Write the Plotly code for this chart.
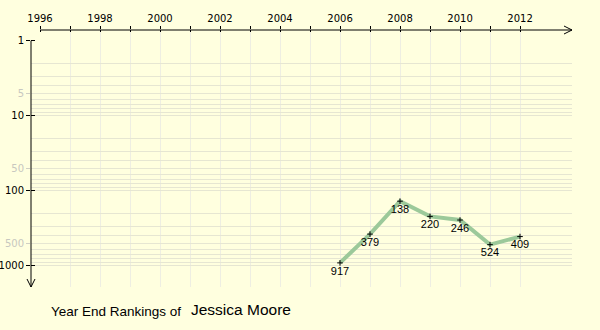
import plotly.graph_objects as go

# Year-end ranking data
years = [2006, 2007, 2008, 2009, 2010, 2011, 2012]
ranks = [917, 379, 138, 220, 246, 524, 409]

player_name = "Jessica Moore"
caption = "Year End Rankings of"

x_tick_years = list(range(1996, 2013))
x_tick_text = [str(y) if y % 2 == 0 else "" for y in x_tick_years]
x_grid_years = list(range(1997, 2013))

y_major_vals = [1, 10, 100, 1000]
y_major_text = ["1", "10", "100", "1000"]
y_minor_vals = [5, 50, 500]
y_minor_text = ["5", "50", "500"]
y_grid_vals = sorted({m * 10 ** k for k in range(3) for m in range(2, 11)})

# axis extents
X_MIN, X_MAX = 1995.7, 2013.733
Y_LOG_BOTTOM, Y_LOG_TOP = 3.284, -0.1427

BG = "#FFFFDF"
GRID = "#E6E6D2"
VGRID = "#EEEEE2"
TICK_FONT = dict(family="DejaVu Sans", size=10, color="black")

fig = go.Figure()

# helper traces so every overlay axis (ticks / grid) gets drawn
for xa, ya in [("x2", "y2"), ("x3", "y3"), ("x3", "y4")]:
    fig.add_trace(go.Scatter(x=years, y=ranks, xaxis=xa, yaxis=ya,
                             mode="lines", line=dict(width=0), opacity=0,
                             hoverinfo="skip", showlegend=False))

fig.add_trace(go.Scatter(
    x=years, y=ranks,
    mode="lines+markers+text",
    line=dict(color="#9CC99A", width=4),
    marker=dict(symbol="cross-thin", size=4, color="black",
                line=dict(color="black", width=1)),
    text=[str(r) for r in ranks],
    textposition="bottom center",
    textfont=dict(family="Liberation Sans", size=11, color="black"),
    hoverinfo="skip",
    showlegend=False,
))

common_x = dict(range=[X_MIN, X_MAX], autorange=False, showline=False,
                zeroline=False, fixedrange=True, automargin=False)
common_y = dict(type="log", range=[Y_LOG_BOTTOM, Y_LOG_TOP], autorange=False,
                showline=False, zeroline=False, fixedrange=True,
                automargin=False)

fig.update_layout(
    width=600, height=330,
    margin=dict(l=31, r=28, t=30, b=43, autoexpand=False),
    paper_bgcolor=BG, plot_bgcolor=BG,
    xaxis=dict(**common_x, side="top", tickmode="array",
               tickvals=x_tick_years, ticktext=x_tick_text,
               ticks="outside", ticklen=3, tickcolor="black", tickwidth=1,
               showgrid=False, tickfont=TICK_FONT),
    xaxis2=dict(**common_x, overlaying="x", anchor="y", side="top",
                tickmode="array", tickvals=x_tick_years,
                ticks="inside", ticklen=2, tickcolor="black", tickwidth=1,
                showticklabels=False, showgrid=False),
    xaxis3=dict(**common_x, overlaying="x", anchor="y", side="top",
                tickmode="array", tickvals=x_grid_years, ticks="",
                showticklabels=False, showgrid=True, gridcolor=VGRID,
                gridwidth=1),
    yaxis=dict(**common_y, tickmode="array", tickvals=y_major_vals,
               ticktext=y_major_text, ticks="outside", ticklen=4,
               tickcolor="black", tickwidth=1, showgrid=False,
               tickfont=TICK_FONT),
    yaxis2=dict(**common_y, overlaying="y", anchor="x", side="left",
                tickmode="array", tickvals=y_minor_vals,
                ticktext=y_minor_text, ticks="outside", ticklen=4,
                tickcolor="#D0D0C4", showgrid=False,
                tickfont=dict(family="DejaVu Sans", size=10, color="#C8C8C0")),
    yaxis3=dict(**common_y, overlaying="y", anchor="x", side="left",
                tickmode="array", tickvals=y_major_vals, ticks="inside",
                ticklen=4, tickcolor="black", showticklabels=False,
                showgrid=False),
    yaxis4=dict(**common_y, overlaying="y", anchor="x", side="left",
                tickmode="array", tickvals=y_grid_vals, ticks="",
                showticklabels=False, showgrid=True, gridcolor=GRID,
                gridwidth=1),
)

axis_line = dict(color="black", width=1)
fig.add_shape(type="line", xref="x", yref="paper", x0=1996, x1=X_MAX,
              y0=1, y1=1, line=axis_line)
fig.add_shape(type="path", xref="x", xsizemode="pixel", xanchor=X_MAX,
              yref="paper", ysizemode="pixel", yanchor=1,
              path="M-8,4 L0,0 L-8,-4", line=axis_line)
fig.add_shape(type="line", xref="paper", yref="y", x0=0, x1=0,
              y0=1, y1=10 ** Y_LOG_BOTTOM, line=axis_line)
fig.add_shape(type="path", xref="paper", xsizemode="pixel", xanchor=0,
              yref="paper", ysizemode="pixel", yanchor=0,
              path="M-4,8 L0,0 L4,8", line=axis_line)

fig.add_annotation(text=caption, xref="paper", yref="paper",
                   x=(49 - 31) / 541, y=(287 - 311) / 257,
                   xanchor="left", yanchor="middle", showarrow=False,
                   font=dict(family="Liberation Sans", size=13.5, color="black"))
fig.add_annotation(text=player_name, xref="paper", yref="paper",
                   x=(189 - 31) / 541, y=(287 - 309) / 257,
                   xanchor="left", yanchor="middle", showarrow=False,
                   font=dict(family="Liberation Sans", size=15.5, color="black"))

fig.write_html("out.html")
